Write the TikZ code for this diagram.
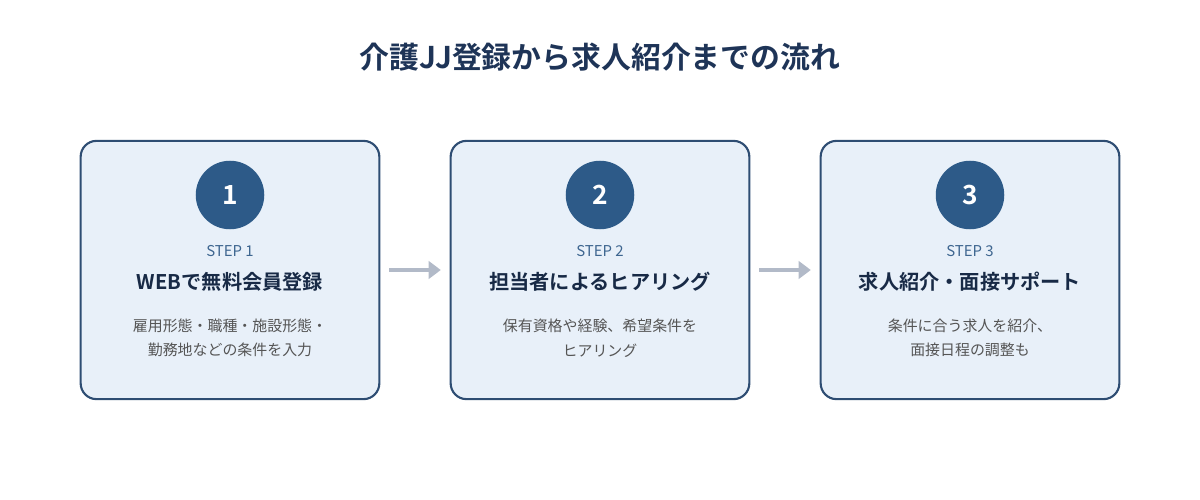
\documentclass[tikz,border=0pt]{standalone}
\usepackage{fontspec}
\setmainfont{Noto Sans CJK JP}[BoldFont={Noto Sans CJK JP Bold}]
\usetikzlibrary{positioning,arrows.meta}
\definecolor{navy}{HTML}{1E3457}
\definecolor{boxfill}{HTML}{E8F0F9}
\definecolor{boxline}{HTML}{2E4D73}
\definecolor{circ}{HTML}{2D5A88}
\definecolor{steptxt}{HTML}{3E6690}
\definecolor{desctxt}{HTML}{555555}
\definecolor{arrowc}{HTML}{B2BAC8}
\tikzset{
  stepbox/.style={draw=boxline,line width=1.2pt,fill=boxfill,rounded corners=9pt,minimum width=170pt,minimum height=147pt},
  num/.style={circle,fill=circ,text=white,minimum size=39pt,font=\fontsize{15}{15}\selectfont\bfseries},
  steplbl/.style={text=steptxt,font=\fontsize{8.5}{10}\selectfont},
  head/.style={text=navy!80!black,font=\fontsize{11.5}{13}\selectfont\bfseries},
  desc/.style={text=desctxt,align=center,font=\fontsize{8.5}{14}\selectfont},
  flow/.style={arrowc,line width=2.5pt,-{Triangle[length=7pt,width=10pt]}}
}
\begin{document}
\begin{tikzpicture}[x=0.02cm,y=-0.02cm]
  \useasboundingbox (0,0) rectangle (1200,500);
  \node[text=navy,font=\fontsize{17}{20}\selectfont\bfseries] (title) at (600,57) {介護JJ登録から求人紹介までの流れ};

  % steps
  \foreach \i/\x/\h/\d in {1/230/WEBで無料会員登録/{雇用形態・職種・施設形態・\\勤務地などの条件を入力},
                          2/600/担当者によるヒアリング/{保有資格や経験、希望条件を\\ヒアリング},
                          3/970/求人紹介・面接サポート/{条件に合う求人を紹介、\\面接日程の調整も}} {
    \node[stepbox] (box\i) at (\x,270) {};
    \node[num] (num\i) at (\x,195) {\i};
    \node[steplbl] (step\i) at (\x,251) {STEP \i};
    \node[head] (head\i) at (\x,282) {\h};
    \node[desc] (desc\i) at (\x,338) {\d};
  }

  % arrows
  \draw[flow] ([xshift=5pt,yshift=0pt]box1.east) -- ([xshift=-5pt]box2.west);
  \draw[flow] ([xshift=5pt]box2.east) -- ([xshift=-5pt]box3.west);
\end{tikzpicture}
\end{document}
